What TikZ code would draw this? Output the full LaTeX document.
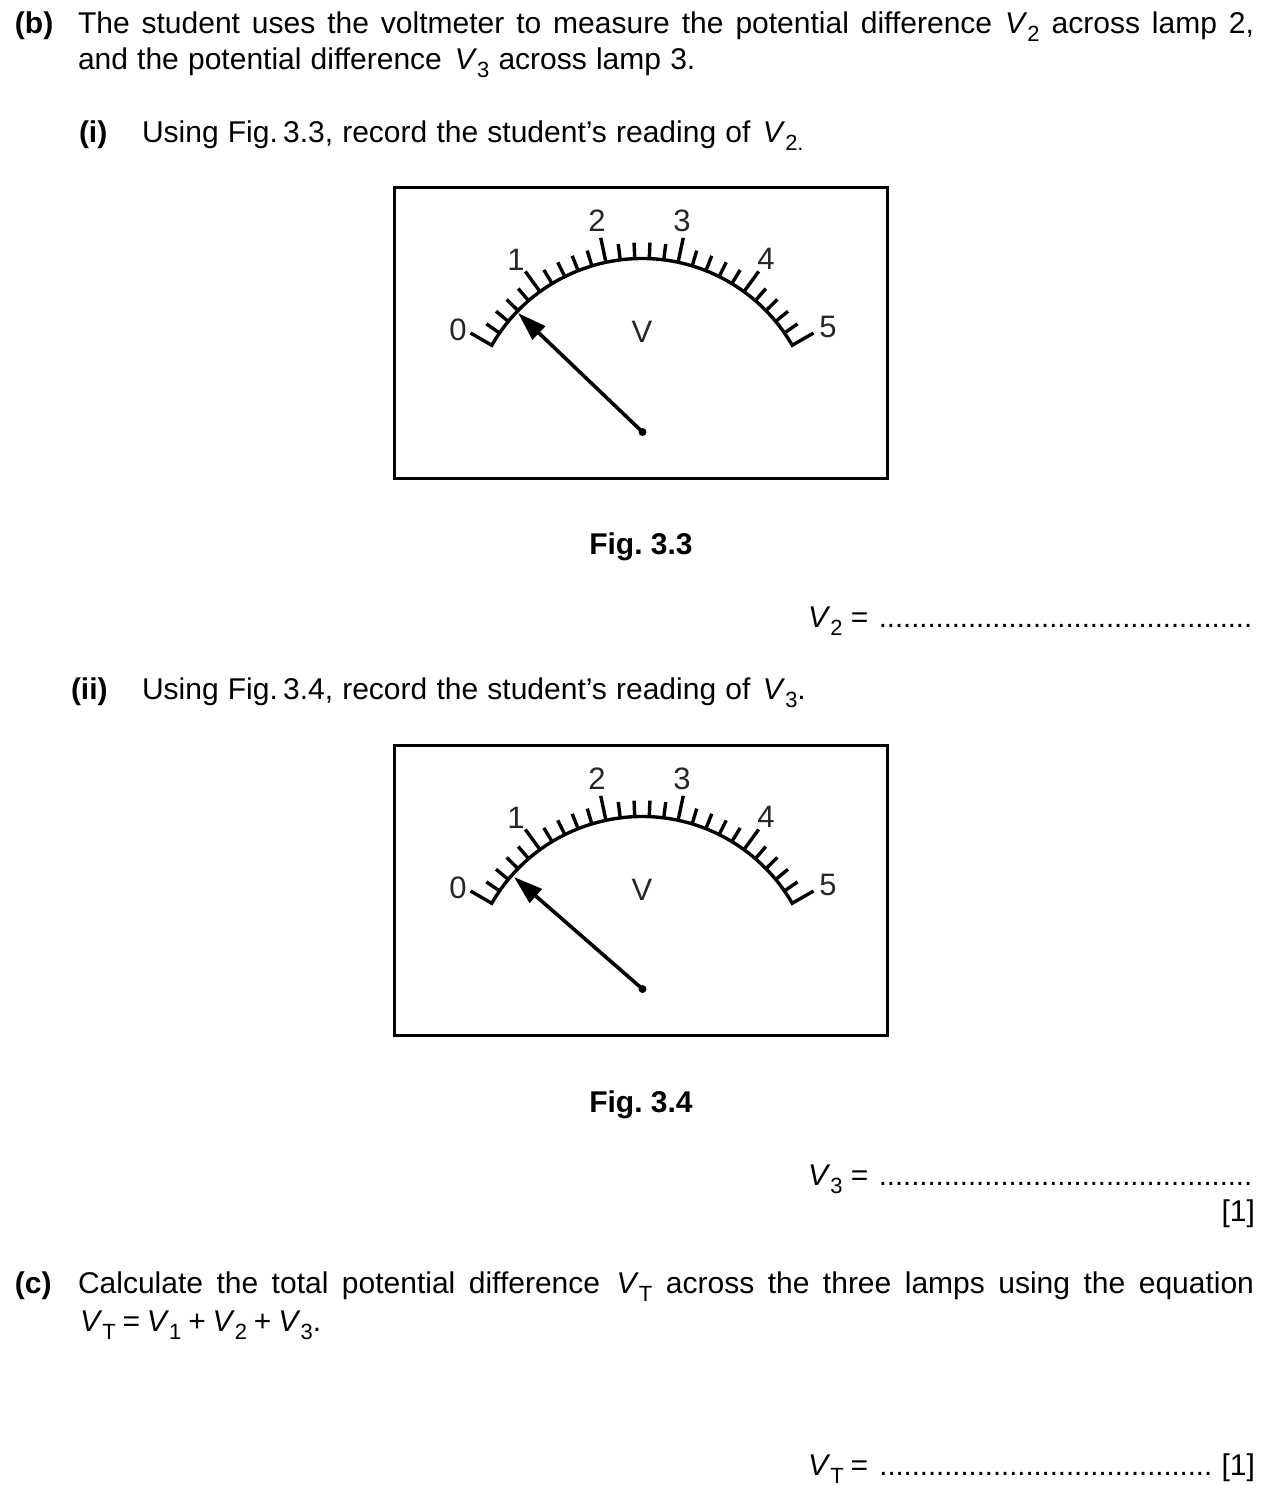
\documentclass[tikz,border=0pt]{standalone}
\usepackage{fontspec}
\setmainfont{Liberation Sans}
\usetikzlibrary{arrows.meta}
\newcommand{\lowidx}[1]{\raisebox{-4pt}{\fontsize{11}{11}\selectfont #1}}
\newcommand{\vv}[1]{\textit{V}\lowidx{#1}}
\newcommand{\widesp}{\spaceskip=4.6pt\relax}
\newcommand{\tightsp}{\spaceskip=3.4pt\relax}
\newcommand{\dialscale}[1]{%
  \draw[dialline] ({642-198*sin(60)},{432+#1-198*cos(60)}) -- ({642-173.5*sin(60)},{432+#1-173.5*cos(60)})
    arc[start angle=210,end angle=330,radius=173.5] -- ({642+198*sin(60)},{432+#1-198*cos(60)});
  \foreach \k in {1,...,24}{
    \pgfmathsetmacro{\ang}{-60+4.8*\k}
    \pgfmathtruncatemacro{\rem}{mod(\k,5)}
    \pgfmathsetmacro{\rout}{\rem==0 ? 198.5 : 189.5}
    \draw[dialline] ({642+173*sin(\ang)},{432+#1-173*cos(\ang)}) -- ({642+\rout*sin(\ang)},{432+#1-\rout*cos(\ang)});
  }
}
\tikzset{
  txt/.style={inner sep=0pt,outer sep=0pt,anchor=base west,font=\fontsize{15}{17}\selectfont\frenchspacing},
  txtr/.style={txt,anchor=base east},
  txtc/.style={txt,anchor=base},
  dotline/.style={inner sep=0pt,outer sep=0pt,anchor=base east,font=\fontsize{14.6}{17}\selectfont},
  digit/.style={inner sep=0pt,outer sep=0pt,anchor=center,text=black!85,font=\fontsize{15.5}{17}\selectfont},
  dialline/.style={line width=1.7pt,line cap=butt,line join=miter},
  framebox/.style={draw,line width=1.5pt,fill=none},
  needle/.style={line width=1.8pt,-{Triangle[length=14.5pt,width=9pt]},shorten >=0pt},
  pivotdot/.style={circle,fill=black,inner sep=0pt,minimum size=4pt}
}
\begin{document}
\begin{tikzpicture}[x=0.5pt,y=-0.5pt]
\useasboundingbox (0,0) rectangle (1272,1496);
% text
\node[txt] (bl) at (15,33) {\textbf{(b)}};
\node[txt] (b1) at (78,33) {\makebox[588pt][s]{The student uses the voltmeter to measure the potential difference \kern0.5pt\vv{2} across lamp 2,}};
\node[txt] (b2) at (78,69) {\widesp and the potential difference \kern1.8pt\vv{3} across lamp 3.};
\node[txt] (il) at (79,142) {\textbf{(i)}};
\node[txt] (i1) at (142,142) {\widesp Using Fig.\kern-2pt\ 3.3, record the student’s reading of \kern1.6pt\textit{V}\lowidx{2.}};
\node[txtc] (f3) at (641,554) {\textbf{Fig. 3.3}};
\node[txt] (v2l) at (808,627) {\vv{2} =};
\node[dotline] (v2d) at (1252,627) {..............................................};
\node[txt] (iil) at (71,699) {\textbf{(ii)}};
\node[txt] (ii1) at (142,699) {\widesp Using Fig.\kern-2pt\ 3.4, record the student’s reading of \kern1.6pt\vv{3}.};
\node[txtc] (f4) at (641,1112) {\textbf{Fig. 3.4}};
\node[txt] (v3l) at (808,1185) {\vv{3} =};
\node[dotline] (v3d) at (1252,1185) {..............................................};
\node[txtr] (m1) at (1255,1221) {[1]};
\node[txt] (cl) at (15,1293) {\textbf{(c)}};
\node[txt] (c1) at (78,1293) {\makebox[588pt][s]{Calculate the total potential difference \kern1.5pt\vv{T} across the three lamps using the equation}};
\node[txt] (c2) at (80,1331) {\tightsp\vv{T} = \vv{1} + \vv{2} + \vv{3}.};
\node[txt] (vtl) at (808,1475) {\tightsp\vv{T} =};
\node[dotline] (vtd) at (1212,1475) {.........................................};
\node[txtr] (m2) at (1255,1475) {[1]};
% dial one
\draw[framebox] (394.5,187.5) rectangle (887.5,478.5);
\dialscale{0}
\node[digit] (d10) at (458,330) {0};
\node[digit] (d11) at (516,260) {1};
\node[digit] (d12) at (597,221) {2};
\node[digit] (d13) at (682,221) {3};
\node[digit] (d14) at (766,259) {4};
\node[digit] (d15) at (828,327) {5};
\node[digit] (d1v) at (642,332) {V};
\node[pivotdot] (p1) at (642.5,432) {};
\coordinate (t1) at (518,313);
\draw[needle] (p1.center) -- (t1);
% dial two
\draw[framebox] (394.5,745.5) rectangle (887.5,1035.5);
\dialscale{558}
\node[digit] (d20) at (458,888) {0};
\node[digit] (d21) at (516,818) {1};
\node[digit] (d22) at (597,779) {2};
\node[digit] (d23) at (682,779) {3};
\node[digit] (d24) at (766,817) {4};
\node[digit] (d25) at (828,885) {5};
\node[digit] (d2v) at (642,890) {V};
\node[pivotdot] (p2) at (642.5,989) {};
\coordinate (t2) at (514,877);
\draw[needle] (p2.center) -- (t2);
\end{tikzpicture}
\end{document}
